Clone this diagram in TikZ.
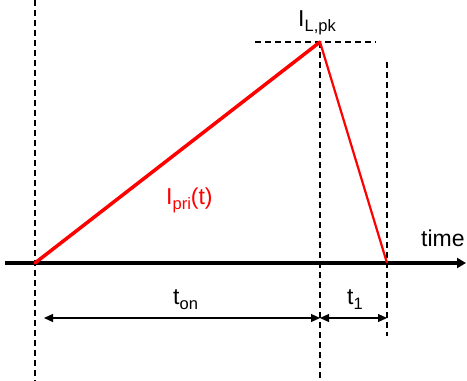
\documentclass[tikz,border=0pt]{standalone}
\usepackage{fontspec}
\setmainfont{Liberation Sans}
\usepackage{tikz}
\usetikzlibrary{arrows.meta,calc}

\newcommand{\lowsub}[1]{\raisebox{-0.22em}{\fontsize{16.5}{17}\selectfont #1}}

\begin{document}
\begin{tikzpicture}[x=1pt, y=-1pt, >={Triangle[length=9pt,width=8pt]}, font=\fontsize{23}{26}\selectfont,
    guide/.style={dash pattern=on 6pt off 4pt, line width=1.3pt},
    lbl/.style={anchor=base west, inner sep=0pt}]
    \useasboundingbox (0,0) rectangle (467,381);

    \coordinate (A) at (35,263);
    \coordinate (P) at (320,42);
    \coordinate (E) at (387,263);

    % guide lines
    \draw[guide] (35,0) -- (35,381);
    \draw[guide] (P) -- (320,381);
    \draw[guide] (387,62) -- (387,336);
    \draw[guide] (255,42) -- (376,42);

    % time axis
    \draw[->, line width=3.5pt, >={Triangle[length=9pt,width=10pt]}] (5,263) -- (466,263) coordinate(T);
    \node[lbl] (time) at (421,246) {time};

    % primary current
    \draw[red, line width=3.5pt, line cap=round] (A) -- (P);
    \draw[red, line width=2.2pt] (P) -- (E);
    \node[lbl, red] (ipri) at (166,204) {I\lowsub{pri}(t)};
    \node[lbl] (ipk) at (298,26) {I\lowsub{L,pk}};

    % intervals
    \draw[<->, line width=1.2pt] (44,318) -- (320,318);
    \draw[<->, line width=1.2pt] (320,318) -- (387,318);
    \node[lbl] (ton) at (173,304) {t\lowsub{on}};
    \node[lbl] (tone) at (347,304) {t\lowsub{1}};
\end{tikzpicture}
\end{document}
